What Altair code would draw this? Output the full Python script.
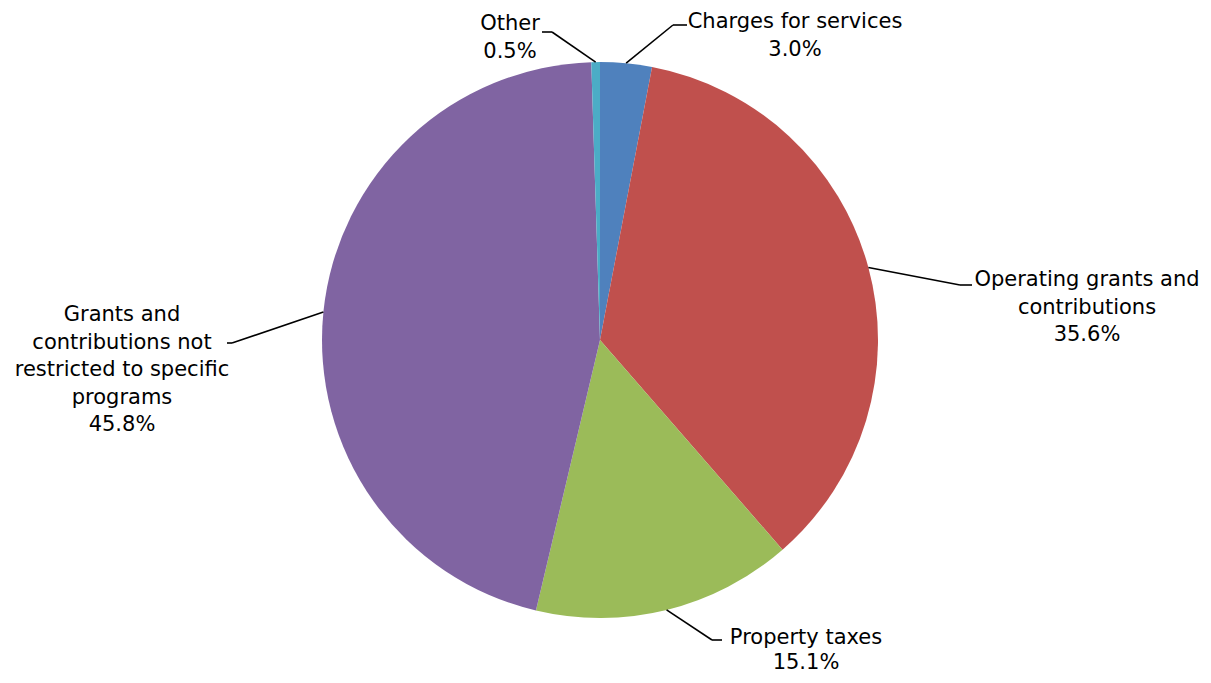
import altair as alt
import pandas as pd

# ---- data ----
categories = [
    "Charges for services",
    "Operating grants and contributions",
    "Property taxes",
    "Grants and contributions not restricted to specific programs",
    "Other",
]
shares = [3.0, 35.6, 15.1, 45.8, 0.5]
label_lines = [
    ["Charges for services", "3.0%"],
    ["Operating grants and", "contributions", "35.6%"],
    ["Property taxes", "15.1%"],
    ["Grants and", "contributions not", "restricted to specific", "programs", "45.8%"],
    ["Other", "0.5%"],
]
colors = ["#4F81BD", "#C0504D", "#9BBB59", "#8064A2", "#4BACC6"]

# ---- layout (page pixels) ----
M = 8
CX, CY, R = 600, 340, 278
elbow_x = [673, 960, 712, 232, 552]
elbow_y = [25, 285, 640, 343, 32]
end_x = [687, 972, 722, 227, 542]
text_x = [795, 1087, 806, 122, 510]
text_y = [28, 286, 644, 321, 30]
line_h = [27.5, 27.5, 25, 27.5, 27.5]

df = pd.DataFrame({
    "idx": list(range(len(categories))),
    "category": categories,
    "share": shares,
    "lines": label_lines,
    "bx": [v - M for v in elbow_x],
    "by": [v - M for v in elbow_y],
    "hx": [v - M for v in end_x],
    "tx": [v - M for v in text_x],
    "ty": [v - M for v in text_y],
})

base = alt.Chart(df).transform_joinaggregate(
    total="sum(share)"
).transform_window(
    cum="sum(share)", sort=[alt.SortField("idx")], frame=[None, 0]
).transform_calculate(
    t0="2*PI*(datum.cum - datum.share)/datum.total",
    t1="2*PI*datum.cum/datum.total",
    mid="2*PI*(datum.cum - datum.share/2)/datum.total",
).transform_calculate(
    ex=f"{CX - M} + {R}*sin(datum.mid)",
    ey=f"{CY - M} - {R}*cos(datum.mid)",
)

pie = base.mark_arc(outerRadius=R).encode(
    theta=alt.Theta("t0:Q", scale=None),
    theta2="t1:Q",
    color=alt.Color("category:N", scale=alt.Scale(domain=categories, range=colors), legend=None),
    x=alt.value(CX - M),
    y=alt.value(CY - M),
)

lead1 = base.mark_rule(color="black", strokeWidth=1.6).encode(
    x=alt.X("ex:Q", scale=None),
    y=alt.Y("ey:Q", scale=None),
    x2="bx:Q",
    y2="by:Q",
)
lead2 = base.mark_rule(color="black", strokeWidth=1.6).encode(
    x=alt.X("bx:Q", scale=None),
    y=alt.Y("by:Q", scale=None),
    x2="hx:Q",
    y2="by:Q",
)

text_layers = []
for i in range(len(categories)):
    text_layers.append(
        base.transform_filter(f"datum.idx == {i}").mark_text(
            font="DejaVu Sans", fontSize=21, lineHeight=line_h[i], align="center",
            baseline="alphabetic", color="black",
        ).encode(
            x=alt.X("tx:Q", scale=None),
            y=alt.Y("ty:Q", scale=None),
            text="lines:N",
        )
    )

chart = alt.layer(pie, lead1, lead2, *text_layers).properties(
    width=1195, height=667, padding=0, autosize="none",
).configure_view(stroke=None)

chart.save("out.html", embed_options={"renderer": "svg", "actions": False})
